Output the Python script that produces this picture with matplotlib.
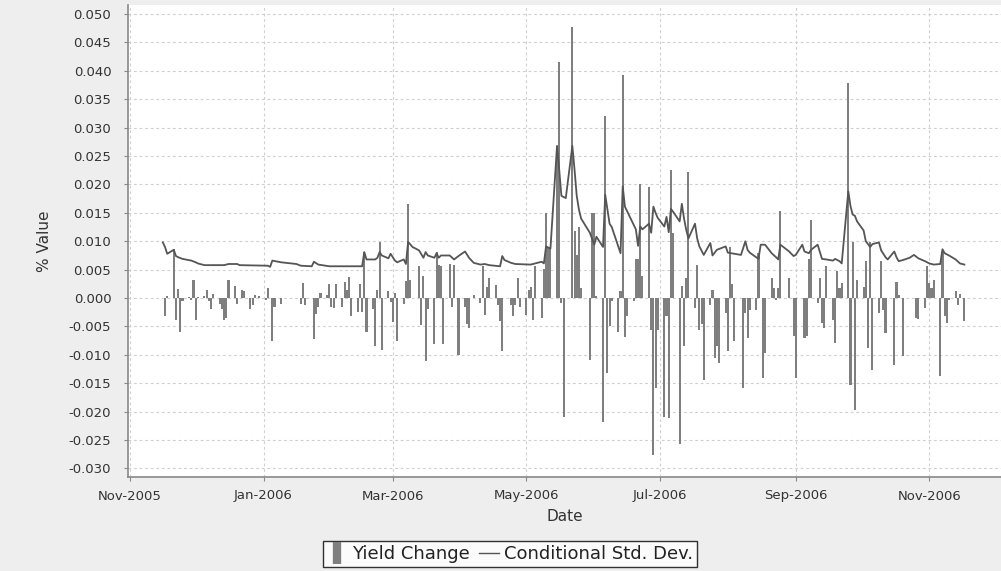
import pandas as pd
import matplotlib
matplotlib.use("Agg")
import matplotlib.pyplot as plt
import matplotlib.dates as mdates
from matplotlib.lines import Line2D
from matplotlib.ticker import FormatStrFormatter

# daily yield change, one row per week (Mon..Fri); first row starts Wed 16-Nov-2005
yield_weeks = [
    [0.0, -0.0032, 0.0003],
    [0.0086, -0.0039, 0.0016, -0.0059, -0.0006],
    [0.0002, -0.0004, 0.0031, -0.0039, 0.0002],
    [0.0003, 0.0015, -0.0006, -0.0020, 0.0008],
    [-0.0010, -0.0020, -0.0038, -0.0035, 0.0031],
    [0.0021, -0.0010, 0.0, 0.0014, 0.0012],
    [-0.0019, -0.0012, 0.0006, 0.0, 0.0004],
    [-0.0004, 0.0018, 0.0, -0.0076, -0.0015],
    [-0.0010, 0.0, 0.0, 0.0, 0.0],
    [0.0, 0.0, -0.0010, 0.0026, -0.0013],
    [0.0, -0.0072, -0.0028, -0.0015, 0.0009],
    [0.0005, 0.0025, -0.0016, -0.0018, 0.0025],
    [-0.0016, 0.0028, 0.0014, 0.0037, -0.0032],
    [-0.0025, 0.0024, -0.0025, 0.0081, -0.0059],
    [-0.0019, -0.0084, 0.0014, 0.0099, -0.0092],
    [0.0012, -0.0007, -0.0042, 0.0009, -0.0075],
    [-0.0010, 0.0030, 0.0166, 0.0031, 0.0],
    [0.0056, -0.0048, 0.0038, -0.0110, -0.0019],
    [-0.0081, 0.0081, 0.0058, 0.0056, -0.0080],
    [0.0060, -0.0015, 0.0059, 0.0, -0.0100],
    [-0.0015, -0.0045, -0.0053, 0.0, 0.0006],
    [-0.0009, 0.0056, -0.0030, 0.0020, 0.0036],
    [0.0023, -0.0012, -0.0041, -0.0094, 0.0],
    [-0.0012, -0.0032, -0.0012, 0.0035, -0.0015],
    [-0.0030, 0.0015, 0.0020, -0.0039, 0.0056],
    [-0.0035, 0.0051, 0.0149, 0.0088, 0.0088],
    [0.0268, 0.0416, -0.0009, -0.0209, 0.0],
    [0.0478, 0.0118, 0.0076, 0.0126, 0.0018],
    [0.0, -0.0109, 0.0150, 0.0150, 0.0003],
    [-0.0218, 0.0320, -0.0132, -0.0050, -0.0006],
    [-0.0060, 0.0012, 0.0392, -0.0068, -0.0032],
    [-0.0006, 0.0068, 0.0068, 0.0200, 0.0038],
    [0.0196, -0.0056, -0.0277, -0.0159, -0.0056],
    [-0.0209, -0.0032, -0.0212, 0.0225, 0.0115],
    [-0.0257, 0.0021, -0.0085, 0.0036, 0.0222],
    [-0.0018, 0.0059, -0.0056, -0.0045, -0.0144],
    [-0.0012, 0.0015, -0.0106, -0.0085, -0.0115],
    [-0.0026, -0.0094, 0.0090, 0.0024, -0.0076],
    [0.0, -0.0159, -0.0026, -0.0070, -0.0021],
    [-0.0021, 0.0080, 0.0, -0.0141, -0.0097],
    [0.0035, 0.0018, -0.0003, 0.0018, 0.0153],
    [0.0, 0.0035, 0.0, -0.0066, -0.0141],
    [0.0, -0.0071, -0.0066, 0.0068, 0.0138],
    [-0.0009, 0.0035, -0.0044, -0.0053, 0.0056],
    [-0.0038, -0.0079, 0.0047, 0.0018, 0.0026],
    [0.0379, -0.0153, 0.0098, -0.0197, 0.0032],
    [0.0020, 0.0066, -0.0088, 0.0098, -0.0126],
    [-0.0026, 0.0066, -0.0021, -0.0062, 0.0],
    [-0.0118, 0.0028, 0.0006, 0.0, -0.0102],
    [0.0, 0.0, 0.0, -0.0035, -0.0037],
    [-0.0018, 0.0056, 0.0026, 0.0018, 0.0032],
    [-0.0138, 0.0082, -0.0032, -0.0044, -0.0003],
    [0.0012, -0.0012, 0.0008, 0.0, -0.0041],
]

# conditional std. dev. (vertices of the line)
sd_dates = [
    "2005-11-16", "2005-11-17", "2005-11-18", "2005-11-21", "2005-11-22", "2005-11-23",
    "2005-11-25", "2005-11-29", "2005-12-01", "2005-12-02", "2005-12-05", "2005-12-14",
    "2005-12-16", "2005-12-20", "2005-12-21", "2006-01-03", "2006-01-04", "2006-01-05",
    "2006-01-09", "2006-01-16", "2006-01-18", "2006-01-23", "2006-01-24", "2006-01-26",
    "2006-01-31", "2006-02-15", "2006-02-16", "2006-02-17", "2006-02-21", "2006-02-22",
    "2006-02-23", "2006-02-24", "2006-02-27", "2006-02-28", "2006-03-02", "2006-03-03",
    "2006-03-06", "2006-03-07", "2006-03-08", "2006-03-10", "2006-03-13", "2006-03-15",
    "2006-03-16", "2006-03-17", "2006-03-20", "2006-03-21", "2006-03-22", "2006-03-23",
    "2006-03-27", "2006-03-29", "2006-03-31", "2006-04-03", "2006-04-05", "2006-04-07",
    "2006-04-10", "2006-04-12", "2006-04-14", "2006-04-19", "2006-04-20", "2006-04-21",
    "2006-04-24", "2006-04-26", "2006-05-03", "2006-05-08", "2006-05-09", "2006-05-10",
    "2006-05-12", "2006-05-15", "2006-05-16", "2006-05-17", "2006-05-19", "2006-05-22",
    "2006-05-23", "2006-05-24", "2006-05-25", "2006-05-26", "2006-05-30", "2006-06-01",
    "2006-06-02", "2006-06-05", "2006-06-06", "2006-06-08", "2006-06-09", "2006-06-13",
    "2006-06-14", "2006-06-15", "2006-06-20", "2006-06-21", "2006-06-22", "2006-06-23",
    "2006-06-26", "2006-06-27", "2006-06-28", "2006-06-29", "2006-06-30", "2006-07-03",
    "2006-07-04", "2006-07-05", "2006-07-06", "2006-07-07", "2006-07-10", "2006-07-11",
    "2006-07-12", "2006-07-13", "2006-07-14", "2006-07-17", "2006-07-18", "2006-07-19",
    "2006-07-21", "2006-07-24", "2006-07-25", "2006-07-27", "2006-07-31", "2006-08-01",
    "2006-08-04", "2006-08-07", "2006-08-09", "2006-08-10", "2006-08-11", "2006-08-15",
    "2006-08-16", "2006-08-18", "2006-08-21", "2006-08-23", "2006-08-24", "2006-08-25",
    "2006-08-29", "2006-08-31", "2006-09-01", "2006-09-04", "2006-09-05", "2006-09-07",
    "2006-09-08", "2006-09-11", "2006-09-13", "2006-09-15", "2006-09-18", "2006-09-19",
    "2006-09-21", "2006-09-22", "2006-09-25", "2006-09-26", "2006-09-27", "2006-09-28",
    "2006-09-29", "2006-10-02", "2006-10-03", "2006-10-05", "2006-10-06", "2006-10-09",
    "2006-10-10", "2006-10-12", "2006-10-13", "2006-10-16", "2006-10-17", "2006-10-18",
    "2006-10-20", "2006-10-23", "2006-10-25", "2006-10-27", "2006-10-30", "2006-11-01",
    "2006-11-03", "2006-11-06", "2006-11-07", "2006-11-08", "2006-11-10", "2006-11-13",
    "2006-11-15", "2006-11-17",
]
sd_values = [
    0.0098, 0.0090, 0.0078, 0.0085, 0.0074, 0.0072,
    0.0069, 0.0066, 0.0063, 0.0061, 0.0058, 0.0058,
    0.0060, 0.0060, 0.0058, 0.0057, 0.0055, 0.0066,
    0.0063, 0.0060, 0.0057, 0.0056, 0.0064, 0.0059,
    0.0056, 0.0056, 0.0081, 0.0068, 0.0068, 0.0071,
    0.0081, 0.0075, 0.0070, 0.0078, 0.0066, 0.0063,
    0.0068, 0.0060, 0.0099, 0.0090, 0.0084, 0.0071,
    0.0081, 0.0075, 0.0071, 0.0079, 0.0071, 0.0075,
    0.0075, 0.0068, 0.0074, 0.0082, 0.0070, 0.0062,
    0.0059, 0.0060, 0.0058, 0.0056, 0.0074, 0.0067,
    0.0062, 0.0060, 0.0059, 0.0064, 0.0061, 0.0091,
    0.0087, 0.0268, 0.0226, 0.0180, 0.0176, 0.0268,
    0.0226, 0.0180, 0.0156, 0.0140, 0.0115, 0.0094,
    0.0108, 0.0090, 0.0182, 0.0131, 0.0125, 0.0079,
    0.0197, 0.0161, 0.0121, 0.0092, 0.0126, 0.0121,
    0.0131, 0.0115, 0.0161, 0.0150, 0.0141, 0.0126,
    0.0143, 0.0116, 0.0157, 0.0152, 0.0135, 0.0166,
    0.0140, 0.0120, 0.0105, 0.0131, 0.0105, 0.0091,
    0.0076, 0.0097, 0.0075, 0.0085, 0.0091, 0.0080,
    0.0078, 0.0076, 0.0100, 0.0085, 0.0080, 0.0069,
    0.0094, 0.0094, 0.0079, 0.0072, 0.0068, 0.0094,
    0.0082, 0.0074, 0.0076, 0.0094, 0.0082, 0.0079,
    0.0085, 0.0094, 0.0069, 0.0068, 0.0066, 0.0069,
    0.0065, 0.0061, 0.0188, 0.0162, 0.0147, 0.0145,
    0.0135, 0.0119, 0.0100, 0.0090, 0.0095, 0.0098,
    0.0084, 0.0072, 0.0068, 0.0082, 0.0072, 0.0065,
    0.0067, 0.0071, 0.0076, 0.0070, 0.0065, 0.0061,
    0.0059, 0.0060, 0.0086, 0.0079, 0.0075, 0.0068,
    0.0061, 0.0059,
]

month_ticks = ["2005-11-01", "2006-01-01", "2006-03-01", "2006-05-01",
               "2006-07-01", "2006-09-01", "2006-11-01"]

yield_change = [v for week in yield_weeks for v in week]
bar_dates = pd.bdate_range("2005-11-16", periods=len(yield_change))
sd_dates = pd.to_datetime(sd_dates)

BG = "#eeeeee"
BAR = "#7f7f7f"
LINE = "#555555"
GRID = "#cfcfcf"
TXT = "#333333"

fig = plt.figure(figsize=(10.01, 5.71), dpi=100, facecolor=BG)
ax = fig.add_axes([128 / 1001, 1 - 477 / 571, 1 - 128 / 1001, 472 / 571])
ax.set_facecolor("white")

ax.bar(bar_dates, yield_change, width=0.95, color=BAR, linewidth=0, zorder=2)
ax.plot(sd_dates, sd_values, color=LINE, lw=1.3, zorder=3)

# x range: a little before Nov-2005 to the cut-off edge of the picture
x0 = mdates.date2num(pd.Timestamp("2005-11-01")) - 0.9
ax.set_xlim(x0, x0 + 873 / 2.19)
ax.set_ylim(-0.0315, 0.0516)

ax.set_yticks([i * 0.005 for i in range(-6, 11)])
ax.yaxis.set_major_formatter(FormatStrFormatter("%.3f"))
ax.set_xticks(pd.to_datetime(month_ticks))
ax.xaxis.set_major_formatter(mdates.DateFormatter("%b-%Y"))

ax.grid(True, color=GRID, ls=(0, (2.5, 2.5)), lw=0.8, zorder=0)
ax.set_axisbelow(True)
for s in ["top", "right"]:
    ax.spines[s].set_visible(False)
for s in ["left", "bottom"]:
    ax.spines[s].set_color("#888888")
    ax.spines[s].set_linewidth(1.2)
ax.tick_params(direction="out", length=3, color="#888888", labelsize=9.5,
               labelcolor=TXT)
ax.tick_params(axis="y", pad=9)
ax.tick_params(axis="x", pad=6)

ax.set_xlabel("Date", fontsize=11, color=TXT, labelpad=5)
ax.set_ylabel("% Value", fontsize=11, color=TXT, labelpad=12)

handles = [
    Line2D([], [], ls="none", marker="|", markersize=16, markeredgewidth=6, color=BAR),
    Line2D([], [], color=LINE, lw=1),
]
leg = fig.legend(handles, ["Yield Change", "Conditional Std. Dev."], loc="center",
                 bbox_to_anchor=(510 / 1001, 1 - 554 / 571), ncol=2, frameon=True,
                 fancybox=False, edgecolor="black", fontsize=13, handlelength=1.1,
                 handletextpad=0.3, columnspacing=0.5, borderpad=0.2,
                 labelcolor="#222222")
leg.get_frame().set_linewidth(1.0)

fig.savefig("out.png", dpi=100, facecolor=BG)
